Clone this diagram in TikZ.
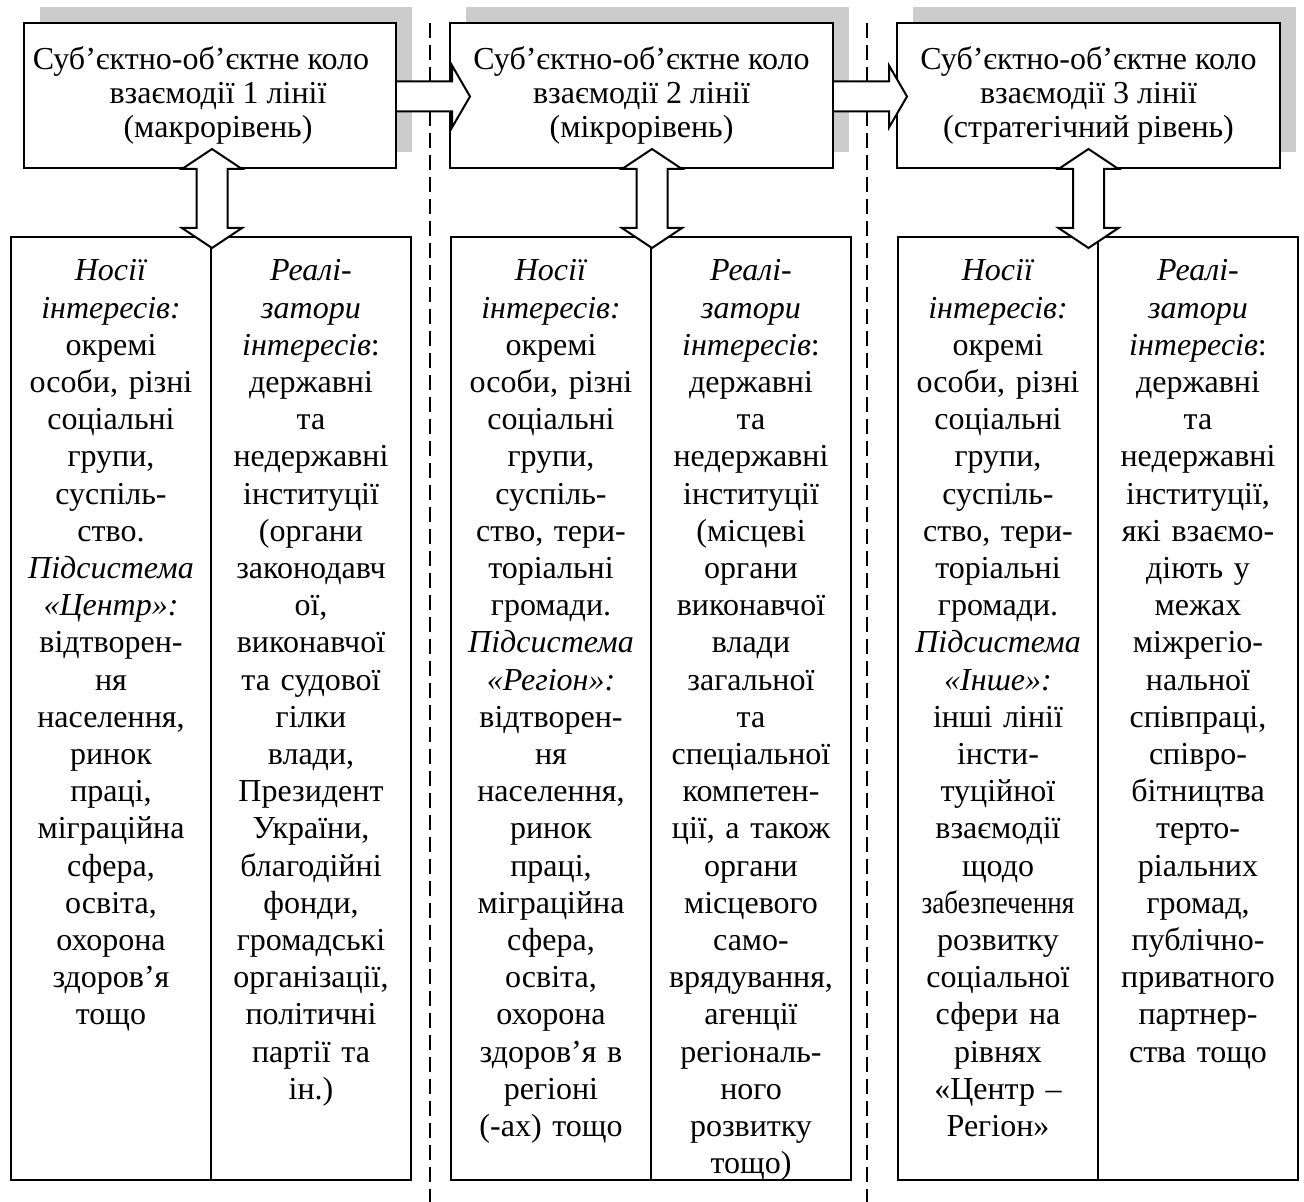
\documentclass[tikz,border=0pt]{standalone}
\usepackage{fontspec}
\setmainfont{Liberation Serif}
\usepackage{graphicx}
\usetikzlibrary{positioning,calc,shadows}
\definecolor{shadowgray}{HTML}{CCCCCC}

\begin{document}
\begin{tikzpicture}[x=0.5pt,y=-0.5pt,
    level/.style={draw,line width=1pt,fill=white,minimum height=72.5pt,inner sep=0pt,
      align=center,font=\fontsize{16}{17}\selectfont,
      drop shadow={shadow xshift=8pt,shadow yshift=8pt,fill=shadowgray,opacity=1}},
    column/.style={draw,line width=1pt,minimum width=100pt,minimum height=471.5pt,inner sep=0pt},
    coltext/.style={text width=98pt,align=center,inner sep=0pt,anchor=base,
      font=\fontsize{16}{18.6}\selectfont},
    blockarrow/.style={draw,line width=1pt,fill=white,line join=miter},
    divider/.style={line width=0.75pt,dash pattern=on 7.5pt off 3.5pt}]
    \useasboundingbox (0,0) rectangle (1304,1202);

    % dashed separators
    \draw[divider] (430,23) -- (430,1202);
    \draw[divider] (867,23) -- (867,1202);

    % three lines of interaction
    \node[level,minimum width=186pt] (k1) at (210,95.5) {Суб’єктно-об’єктне коло\hspace*{9pt}\\\hspace*{8pt}взаємодії 1 лінії\\\hspace*{8pt}(макрорівень)};
    \node[level,minimum width=191.5pt] (k2) at (641.5,95.5) {Суб’єктно-об’єктне коло\\взаємодії 2 лінії\\(мікрорівень)};
    \node[level,minimum width=191.5pt] (k3) at (1088.5,95.5) {Суб’єктно-об’єктне коло\\взаємодії 3 лінії\\(стратегічний рівень)};

    % columns
    \node[column] (n1) at (111,708.5) {};
    \node[column] (r1) at (311,708.5) {};
    \node[column] (n2) at (551,708.5) {};
    \node[column] (r2) at (751,708.5) {};
    \node[column] (n3) at (998,708.5) {};
    \node[column] (r3) at (1198,708.5) {};

    \node[coltext] (tn1) at ($(n1.north)+(0,45)$) {\textit{Носії}\\\textit{інтересів:}\\окремі\\особи, різні\\соціальні\\групи,\\суспіль-\\ство.\\\textit{Підсистема}\\\textit{«Центр»:}\\відтворен-\\ня\\населення,\\ринок\\праці,\\міграційна\\сфера,\\освіта,\\охорона\\здоров’я\\тощо};
    \node[coltext] (tr1) at ($(r1.north)+(0,45)$) {\textit{Реалі-}\\\textit{затори}\\\textit{інтересів}:\\державні\\та\\недержавні\\інституції\\(органи\\законодавч\\ої,\\виконавчої\\та судової\\гілки\\влади,\\Президент\\України,\\благодійні\\фонди,\\громадські\\організації,\\політичні\\партії та\\ін.)};
    \node[coltext] (tn2) at ($(n2.north)+(0,45)$) {\textit{Носії}\\\textit{інтересів:}\\окремі\\особи, різні\\соціальні\\групи,\\суспіль-\\ство, тери-\\торіальні\\громади.\\\textit{Підсистема}\\\textit{«Регіон»:}\\відтворен-\\ня\\населення,\\ринок\\праці,\\міграційна\\сфера,\\освіта,\\охорона\\здоров’я в\\регіоні\\(-ах) тощо};
    \node[coltext] (tr2) at ($(r2.north)+(0,45)$) {\textit{Реалі-}\\\textit{затори}\\\textit{інтересів}:\\державні\\та\\недержавні\\інституції\\(місцеві\\органи\\виконавчої\\влади\\загальної\\та\\спеціальної\\компетен-\\ції, а також\\органи\\місцевого\\само-\\врядування,\\агенції\\регіональ-\\ного\\розвитку\\тощо)};
    \node[coltext] (tn3) at ($(n3.north)+(0,45)$) {\textit{Носії}\\\textit{інтересів:}\\окремі\\особи, різні\\соціальні\\групи,\\суспіль-\\ство, тери-\\торіальні\\громади.\\\textit{Підсистема}\\\textit{«Інше»:}\\інші лінії\\інсти-\\туційної\\взаємодії\\щодо\\\scalebox{0.85}[1]{забезпечення}\\розвитку\\соціальної\\сфери на\\рівнях\\«Центр –\\Регіон»};
    \node[coltext] (tr3) at ($(r3.north)+(0,45)$) {\textit{Реалі-}\\\textit{затори}\\\textit{інтересів}:\\державні\\та\\недержавні\\інституції,\\які взаємо-\\діють у\\межах\\міжрегіо-\\нальної\\співпраці,\\співро-\\бітництва\\терто-\\ріальних\\громад,\\публічно-\\приватного\\партнер-\\ства тощо};

    % block arrows between the lines
    \draw[blockarrow] ($(k1.east)+(0,-14)$) -- ++(55,0) -- ++(0,-16) -- ++(18,31) -- ++(-18,31) -- ++(0,-16) -- ++(-55,0);
    \draw[blockarrow] ($(k2.east)+(0,-14)$) -- ++(55,0) -- ++(0,-16) -- ++(18,31) -- ++(-18,31) -- ++(0,-16) -- ++(-55,0);

    % block arrows to the columns
    \draw[blockarrow] ($(k1.south -| n1.east)+(0,-20)$) -- ++(30,20) -- ++(-14.5,0) -- ++(0,59) -- ++(14.5,0) -- ++(-30,20) -- ++(-30,-20) -- ++(14.5,0) -- ++(0,-59) -- ++(-14.5,0) -- cycle;
    \draw[blockarrow] ($(k2.south -| n2.east)+(0,-20)$) -- ++(30,20) -- ++(-14.5,0) -- ++(0,59) -- ++(14.5,0) -- ++(-30,20) -- ++(-30,-20) -- ++(14.5,0) -- ++(0,-59) -- ++(-14.5,0) -- cycle;
    \draw[blockarrow] ($(k3.south)+(0,-20)$) -- ++(30,20) -- ++(-14.5,0) -- ++(0,59) -- ++(14.5,0) -- ++(-30,20) -- ++(-30,-20) -- ++(14.5,0) -- ++(0,-59) -- ++(-14.5,0) -- cycle;
\end{tikzpicture}
\end{document}
